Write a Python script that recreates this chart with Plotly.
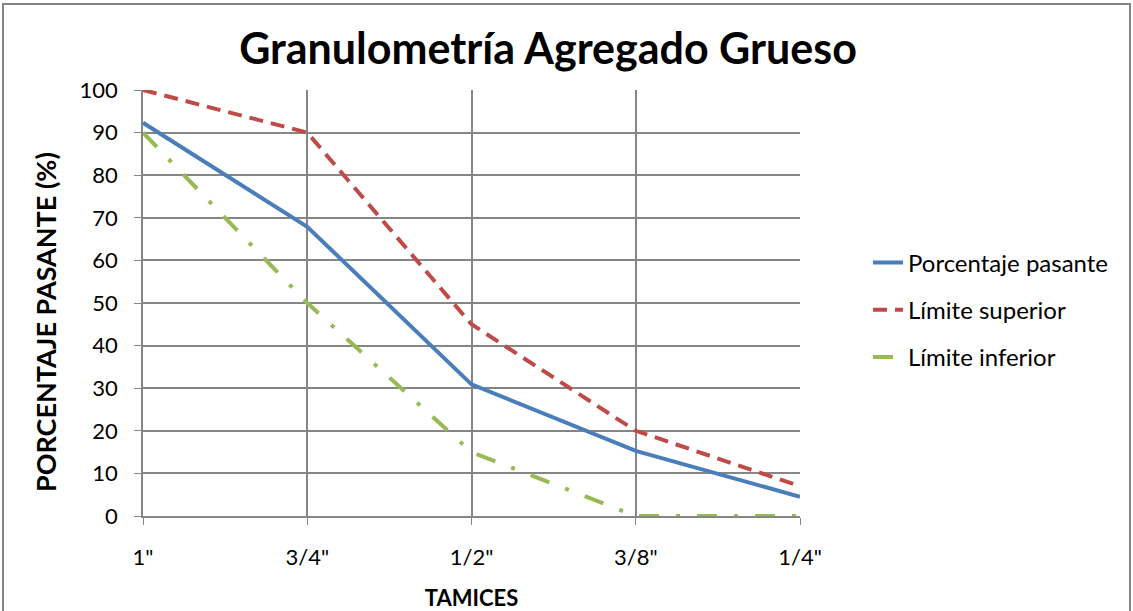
import plotly.graph_objects as go

tamices = ['1"', '3/4"', '1/2"', '3/8"', '1/4"']
porcentaje_pasante = [92.3, 67.9, 30.9, 15.3, 4.5]
limite_superior = [100, 90, 45, 20, 7]
limite_inferior = [90, 50, 15, 0, 0]

xpos = list(range(len(tamices)))
FONT = "Lato"

fig = go.Figure()
fig.add_trace(go.Scatter(x=xpos, y=porcentaje_pasante, mode="lines", name="Porcentaje pasante",
                         legendgroup="a", line=dict(color="#4A7EBB", width=4)))
fig.add_trace(go.Scatter(x=xpos, y=limite_superior, mode="lines", name="Límite superior",
                         legendgroup="b", line=dict(color="#BE4B48", width=4, dash="14px,8px")))
fig.add_trace(go.Scatter(x=xpos, y=limite_inferior, mode="lines", name="Límite inferior",
                         legendgroup="c", line=dict(color="#98B954", width=4, dash="20px,17px,4px,17px")))

L, R, T, B = 143, 333, 90, 95
W, H = 1133, 611
pw, ph = W - L - R, H - T - B

fig.update_layout(
    width=W, height=H,
    margin=dict(l=L, r=R, t=T, b=B, autoexpand=False),
    paper_bgcolor="white", plot_bgcolor="white",
    font=dict(family=FONT, size=22, color="black"),
    title=dict(text="<b>Granulometría Agregado Grueso</b>", x=548 / W, xanchor="center",
               y=1 - 49 / H, yanchor="middle", font=dict(size=43, family=FONT)),
    xaxis=dict(range=[0, 4], tickmode="array", tickvals=xpos, ticktext=tamices,
               showgrid=True, gridcolor="#868686", gridwidth=1.5,
               showline=True, linecolor="#868686", linewidth=1.5,
               ticks="outside", ticklen=7, tickcolor="#868686", automargin=False,
               zeroline=False, tickfont=dict(size=22), ticklabelstandoff=14,
               title=dict(text="<b>TAMICES</b>", font=dict(size=22), standoff=21)),
    yaxis=dict(range=[0, 100], dtick=10, showgrid=True, gridcolor="#868686", gridwidth=1.5,
               showline=True, linecolor="#868686", linewidth=1.5, automargin=False,
               ticks="outside", ticklen=7, tickcolor="#868686",
               zeroline=False, tickfont=dict(size=22), ticklabelstandoff=12),
    legend=dict(x=(868 - L) / pw, xanchor="left", y=(516 - 310) / ph, yanchor="middle",
                font=dict(size=24), tracegroupgap=13, traceorder="grouped",
                bgcolor="rgba(0,0,0,0)"),
    showlegend=True,
)

fig.add_annotation(text="<b>PORCENTAJE PASANTE (%)</b>", textangle=-90,
                   xref="paper", yref="paper", x=(45 - L) / pw, y=(516 - 322) / ph,
                   xanchor="center", yanchor="middle", showarrow=False,
                   font=dict(size=27, family=FONT, color="black"))

fig.add_shape(type="rect", xref="paper", yref="paper",
              x0=(3 - L) / pw, x1=(1130 - L) / pw,
              y0=(516 - 650) / ph, y1=(516 - 4) / ph,
              line=dict(color="#868686", width=2), fillcolor="rgba(0,0,0,0)", layer="below")

fig.write_html("out.html")
